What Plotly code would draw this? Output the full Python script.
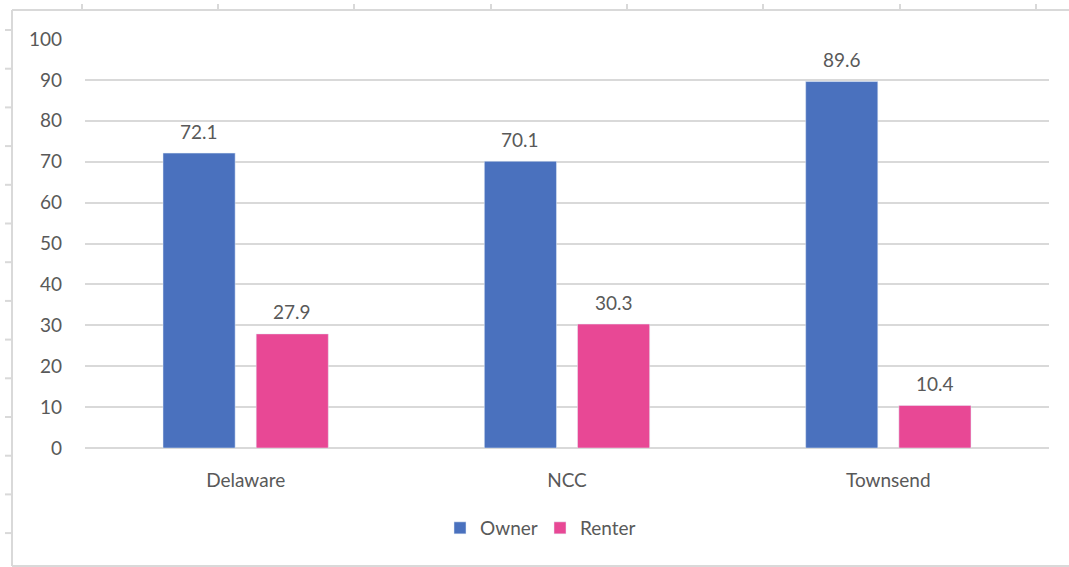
import plotly.graph_objects as go

categories = ["Delaware", "NCC", "Townsend"]
owner = [72.1, 70.1, 89.6]
renter = [27.9, 30.3, 10.4]
y_ticks = [0, 10, 20, 30, 40, 50, 60, 70, 80, 90, 100]

FONT = "Lato, 'Open Sans', sans-serif"
GRAY = "#595959"
FS = 19

BARGAP = 0.42
slot = (1 - BARGAP) / 2

fig = go.Figure()
fig.add_trace(go.Bar(name="Owner", x=categories, y=owner, marker=dict(color="#4A71BE")))
fig.add_trace(go.Bar(name="Renter", x=categories, y=renter, marker=dict(color="#E84895")))

annotations = []
for i, (o, r) in enumerate(zip(owner, renter)):
    for val, off in ((o, -slot / 2), (r, slot / 2)):
        annotations.append(dict(x=i + off, y=val, xref="x", yref="y", text=f"{val:.1f}",
                                showarrow=False, yanchor="middle", yshift=22,
                                font=dict(size=FS, color=GRAY, family=FONT)))

W, H = 1069, 567
L, R, T, B = 85, 20, 39, 119
pw, ph = W - L - R, H - T - B


def px(x):
    return (x - L) / pw


def py(y):
    return (H - B - y) / ph


shapes = [
    dict(type="line", xref="paper", yref="paper", x0=px(12), x1=px(1075), y0=py(10), y1=py(10),
         line=dict(color="#D9D9D9", width=2)),
    dict(type="line", xref="paper", yref="paper", x0=px(1075), x1=px(12), y0=py(566), y1=py(566),
         line=dict(color="#D9D9D9", width=2)),
    dict(type="line", xref="paper", yref="paper", x0=px(12), x1=px(12), y0=py(10), y1=py(566),
         line=dict(color="#D9D9D9", width=2)),
]
for xt in [82, 218, 354, 491, 627, 763, 900, 1036]:
    shapes.append(dict(type="line", xref="paper", yref="paper", x0=px(xt), x1=px(xt),
                       y0=py(4), y1=py(10), line=dict(color="#D9D9D9", width=2)))
for k in range(14):
    yt = 30 + k * 38.7
    shapes.append(dict(type="line", xref="paper", yref="paper", x0=px(5), x1=px(12),
                       y0=py(yt), y1=py(yt), line=dict(color="#D9D9D9", width=2)))

fig.update_layout(
    width=W, height=H,
    margin=dict(l=L, r=R, t=T, b=B),
    paper_bgcolor="white", plot_bgcolor="white",
    barmode="group", bargap=BARGAP, bargroupgap=0.226,
    font=dict(family=FONT, color=GRAY, size=FS),
    showlegend=True,
    legend=dict(orientation="h", x=px(540), xanchor="center", y=py(528), yanchor="middle",
                font=dict(size=FS, color=GRAY, family=FONT), traceorder="normal",
                entrywidth=55, itemwidth=30),
    yaxis=dict(range=[0, 100], tickvals=y_ticks, showgrid=True, gridcolor="#D9D9D9",
               gridwidth=2, zeroline=True, zerolinecolor="#D9D9D9", zerolinewidth=2,
               showline=False, ticks="", ticklabelstandoff=22,
               tickfont=dict(size=FS, color=GRAY, family=FONT)),
    xaxis=dict(showline=False, ticks="", ticklabelstandoff=19,
               tickfont=dict(size=FS, color=GRAY, family=FONT)),
    annotations=annotations,
    shapes=shapes,
)

fig.write_html("out.html")
